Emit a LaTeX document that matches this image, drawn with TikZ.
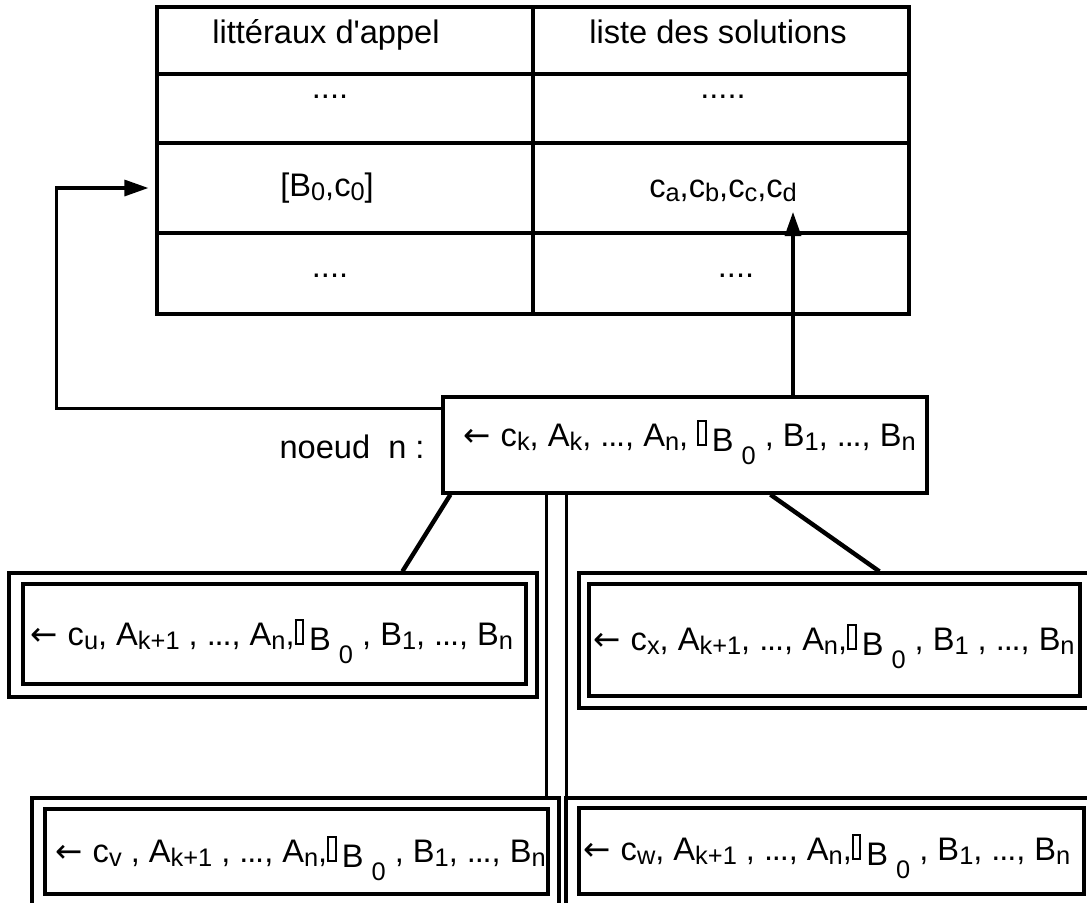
\documentclass[tikz,border=0pt]{standalone}
\usepackage{fontspec}
\setmainfont{Liberation Sans}
% a family without the TeX quote mapping, so that ' stays straight
\newfontfamily\plainsans{Liberation Sans}
\newfontfamily\arrowfont{DejaVu Sans}
\usetikzlibrary{arrows.meta,fit,calc}

% left arrow at the head of a goal list
\newcommand\la{{\arrowfont ←}\kern5pt}
% lowered index in smaller type
\newcommand\lo[1]{\raisebox{-2.2pt}{\fontsize{12.7pt}{12.7pt}\selectfont #1}}
% tight three dots
\newcommand\dd{.\kern-0.6pt.\kern-0.6pt.}
% small hollow bar
\newcommand\bxg{\raisebox{1pt}{\setlength\fboxrule{1.1pt}\setlength\fboxsep{0pt}\fbox{\rule{2.6pt}{0pt}\rule{0pt}{11pt}}}}
% lowered B with its index 0
\newcommand\bzero{\hspace{2.5pt}\raisebox{-2.5pt}{B}\hspace{4pt}\raisebox{-9pt}{\fontsize{12.7pt}{12.7pt}\selectfont 0}}

\begin{document}
\begin{tikzpicture}[x=0.5pt,y=-0.5pt,
  frame/.style={draw, line width=1.6pt, inner sep=0pt},
  txt/.style={inner sep=0pt, anchor=base west, font=\plainsans\fontsize{16.3pt}{18pt}\selectfont},
  ctxt/.style={txt, anchor=base},
  link/.style={line width=2.2pt},
  arr/.style={line width=1.6pt, -{Triangle[length=12pt,width=8pt]}}]
\useasboundingbox (0,0) rectangle (1087,902);
\clip (0,0) rectangle (1087,902);

% ---- table of calls ----
\node[frame, fit={(157,7) (533,74)}]    (h1) {};
\node[frame, fit={(533,7) (909,74)}]    (h2) {};
\node[frame, fit={(157,74) (533,143)}]  (a1) {};
\node[frame, fit={(533,74) (909,143)}]  (a2) {};
\node[frame, fit={(157,143) (533,233)}] (b1) {};
\node[frame, fit={(533,143) (909,233)}] (b2) {};
\node[frame, fit={(157,233) (533,314)}] (c1) {};
\node[frame, fit={(533,233) (909,314)}] (c2) {};

\node[ctxt] (th1) at (326,43) {littéraux d'appel};
\node[ctxt] (th2) at (718,43) {liste des solutions};
\node[ctxt] (ta1) at (330,98) {....};
\node[ctxt] (ta2) at (723,98) {.....};
\node[ctxt] (tb1) at (327,196) {[B\lo{0},c\lo{0}]};
\node[ctxt] (tb2) at (723,197) {c\lo{a},c\lo{b},c\lo{c},c\lo{d}};
\node[ctxt] (tc1) at (330,277) {....};
\node[ctxt] (tc2) at (736,277) {....};

% ---- current node ----
\node[frame, fit={(443,397) (927,493)}] (nd) {};
\node[txt] (ndt) at (463,446) {\la c\lo{k}, A\lo{k}, \dd, A\lo{n}, \bxg\bzero\ , B\lo{1}, \dd, B\lo{n}};
\node[txt, anchor=base east] (ndl) at (425,458) {noeud\ \ n :};

% ---- children (double frames) ----
\node[frame, fit={(9,573) (537,697)}]    (ulo) {};
\node[frame, fit={(23,584) (526,684)}]   (uli) {};
\node[txt] (ult) at (30,645) {\la c\lo{u}, A\lo{k+1} , \dd, A\lo{n},\bxg\bzero\ , B\lo{1}, \dd, B\lo{n}};

\node[frame, fit={(579,573) (1100,708)}] (uro) {};
\node[frame, fit={(589,584) (1080,696)}] (uri) {};
\node[txt] (urt) at (593,650) {\la c\lo{x}, A\lo{k+1}, \dd, A\lo{n},\bxg\bzero\ , B\lo{1} , \dd, B\lo{n}};

\node[frame, fit={(32,798) (559,915)}]   (blo) {};
\node[frame, fit={(45,809) (548,894)}]   (bli) {};
\node[txt] (blt) at (55,862) {\la c\lo{v} , A\lo{k+1} , \dd, A\lo{n},\bxg\bzero\ , B\lo{1}, \dd, B\lo{n}};

\node[frame, fit={(566,798) (1100,915)}] (bro) {};
\node[frame, fit={(579,808) (1084,894)}] (bri) {};
\node[txt] (brt) at (583,860) {\la c\lo{w}, A\lo{k+1} , \dd, A\lo{n},\bxg\bzero\ , B\lo{1}, \dd, B\lo{n}};

% ---- connectors ----
\draw[link] ($(nd.south west)+(9,0)$) -- ($(ulo.north west)+(395,0)$);
\draw[link] ($(nd.south west)+(329,0)$) -- ($(uro.north west)+(302,0)$);
\draw[frame] ($(nd.south west)+(105,0)$) -- (blo.north -| {$(nd.south west)+(105,0)$});
\draw[frame] ($(nd.south west)+(125,0)$) -- (bro.north -| {$(nd.south west)+(125,0)$});

\draw[arr, shorten >=3.5pt] ($(nd.north west)+(0,13)$) -- ++(-385,0) |- (b1.west);
\coordinate (solend) at (793,212);
\draw[arr] (nd.north -| solend) -- (solend);
\end{tikzpicture}
\end{document}
